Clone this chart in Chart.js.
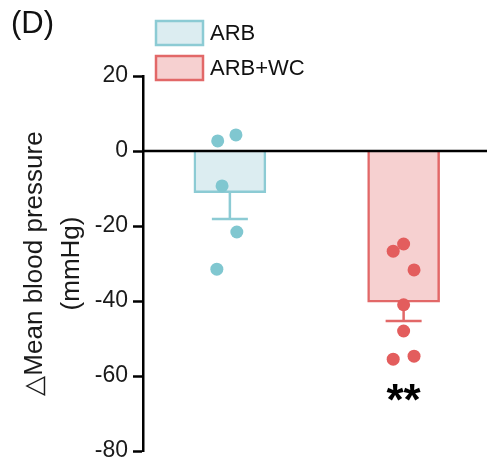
<!DOCTYPE html>
<html>
<head>
<meta charset="utf-8">
<script src="https://cdn.jsdelivr.net/npm/chart.js@4.4.1/dist/chart.umd.min.js"></script>
<style>
  html, body { margin: 0; padding: 0; background: #fff; }
  #wrap { width: 487px; height: 462px; position: relative; }
</style>
</head>
<body>
<div id="wrap"><canvas id="myChart"></canvas></div>
<script>
  // groups and values (mmHg)
  const groups = ["ARB", "ARB+WC"];
  const groupPos = [1, 3];
  const means = [-11.1, -40.3];
  const sems = [7.0, 5.0];
  const arbPoints = [2.7, 4.3, -9.3, -21.6, -31.5];
  const arbJitter = [-0.14, 0.07, -0.09, 0.08, -0.15];
  const wcPoints = [-24.8, -26.7, -31.7, -41.0, -48.0, -55.5, -54.7];
  const wcJitter = [0.0, -0.12, 0.12, 0.0, 0.0, -0.12, 0.12];
  const yTicks = [20, 0, -20, -40, -60, -80];
  const sigLabel = "**";
  const sigAt = -65;

  const fills = ["#dcedf1", "#f6d0d0"];
  const borders = ["#8ccbd4", "#e26868"];
  const dots = ["#80c7d0", "#e35d5d"];
  const FONT = "'Liberation Sans', Arial, sans-serif";

  const toPts = (vals, jit, base) => vals.map((v, i) => ({ x: base + jit[i], y: v }));

  const extras = {
    id: "extras",
    afterDatasetDraw(chart, args) {
      if (args.index !== 0) return;
      // error bars (downward only)
      const ctx = chart.ctx, xs = chart.scales.x, ys = chart.scales.y;
      ctx.save();
      ctx.lineWidth = 2.5;
      groupPos.forEach((p, i) => {
        const x = xs.getPixelForValue(p);
        const y0 = ys.getPixelForValue(means[i]);
        const y1 = ys.getPixelForValue(means[i] - sems[i]);
        ctx.strokeStyle = borders[i];
        ctx.beginPath();
        ctx.moveTo(x, y0); ctx.lineTo(x, y1);
        ctx.moveTo(x - 18, y1); ctx.lineTo(x + 18, y1);
        ctx.stroke();
      });
      ctx.restore();
    },
    afterDatasetsDraw(chart) {
      const ctx = chart.ctx, ys = chart.scales.y, xs = chart.scales.x;
      const a = chart.chartArea;
      // zero line
      const yz = ys.getPixelForValue(0);
      ctx.save();
      ctx.strokeStyle = "#000";
      ctx.lineWidth = 2.5;
      ctx.beginPath();
      ctx.moveTo(a.left, yz); ctx.lineTo(chart.width, yz);
      ctx.stroke();
      // significance
      ctx.fillStyle = "#000";
      ctx.font = "bold 44px " + FONT;
      ctx.textAlign = "center";
      ctx.textBaseline = "middle";
      ctx.fillText(sigLabel, xs.getPixelForValue(groupPos[1]), ys.getPixelForValue(sigAt) + 8);
      ctx.restore();
    },
    afterDraw(chart) {
      const ctx = chart.ctx;
      ctx.save();
      // panel letter
      ctx.fillStyle = "#111";
      ctx.font = "31px " + FONT;
      ctx.textAlign = "left";
      ctx.textBaseline = "middle";
      ctx.fillText("(D)", 11, 24);
      // legend
      ctx.font = "22px " + FONT;
      groups.forEach((g, i) => {
        const y = 21 + i * 35;
        ctx.fillStyle = fills[i];
        ctx.fillRect(156, y, 47, 24);
        ctx.strokeStyle = borders[i];
        ctx.lineWidth = 2.5;
        ctx.strokeRect(156, y, 47, 24);
        ctx.fillStyle = "#111";
        ctx.fillText(g, 210, y + 13);
      });
      ctx.restore();
    }
  };

  const ctx = document.getElementById("myChart").getContext("2d");
  const chart = new Chart(ctx, {
    type: "bar",
    data: {
      datasets: [
        {
          type: "bar",
          label: "mean",
          data: groupPos.map((p, i) => ({ x: p, y: means[i] })),
          backgroundColor: fills,
          borderColor: borders,
          borderWidth: 2.5,
          borderSkipped: "start",
          barThickness: 72,
          order: 2
        },
        {
          type: "scatter",
          label: groups[0],
          data: toPts(arbPoints, arbJitter, groupPos[0]),
          backgroundColor: dots[0],
          borderWidth: 0,
          pointRadius: 6.5,
          order: 1
        },
        {
          type: "scatter",
          label: groups[1],
          data: toPts(wcPoints, wcJitter, groupPos[1]),
          backgroundColor: dots[1],
          borderWidth: 0,
          pointRadius: 6.5,
          order: 1
        }
      ]
    },
    options: {
      responsive: true,
      maintainAspectRatio: false,
      animation: false,
      layout: { padding: { top: 76, bottom: 11, left: 0, right: 0 } },
      plugins: { legend: { display: false }, tooltip: { enabled: false } },
      scales: {
        x: { type: "linear", min: 0, max: 3.885, offset: false, display: false },
        y: {
          min: -80,
          max: 20,
          afterBuildTicks: (s) => { s.ticks = yTicks.map((v) => ({ value: v })); },
          afterFit: (s) => { s.width = 143; s.paddingTop = 0; s.paddingBottom = 0; },
          border: { color: "#000", width: 2.5 },
          grid: { display: true, color: "rgba(0,0,0,0)", drawOnChartArea: false, tickColor: "#000", tickLength: 10, tickWidth: 2.5 },
          ticks: { color: "#1a1a1a", padding: 5, font: { family: FONT, size: 23 } },
          title: {
            display: true,
            text: ["\u25B3Mean blood pressure", "(mmHg)"],
            color: "#1a1a1a",
            font: { family: FONT, size: 26, lineHeight: 1.42 },
            padding: { top: 16, bottom: 0 }
          }
        }
      }
    },
    plugins: [extras]
  });
</script>
</body>
</html>
